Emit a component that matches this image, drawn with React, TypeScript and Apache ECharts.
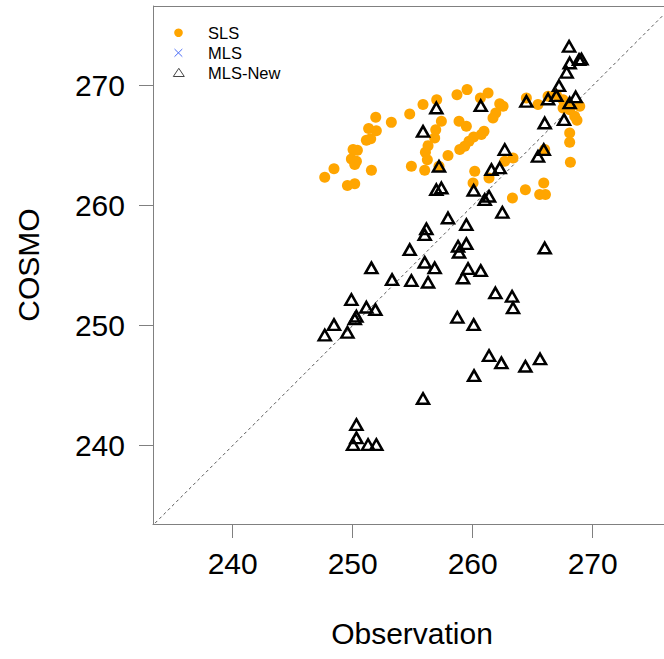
import React, { useEffect, useRef } from 'react';
import * as echarts from 'echarts';

// SLS: [Observation, COSMO]
const slsPoints: number[][] = [
  [247.67, 262.36], [248.44, 263.08], [249.56, 261.67], [250.17, 261.83],
  [250.03, 264.67], [250.39, 264.61], [249.89, 263.89], [250.31, 263.69],
  [250.17, 263.42], [251.56, 262.94], [251.14, 265.44], [251.5, 265.58],
  [251.33, 266.42], [251.97, 266.25], [251.92, 267.36], [253.22, 266.94],
  [254.75, 267.64], [255.86, 268.42], [257.0, 268.83], [257.39, 267.03],
  [256.92, 266.33], [256.83, 265.64], [256.28, 265.0], [256.06, 264.44],
  [256.22, 263.83], [254.89, 263.28], [256.0, 262.94], [257.94, 264.17],
  [258.69, 269.25], [259.53, 269.67], [260.64, 268.97], [261.28, 269.39],
  [262.25, 268.5], [262.53, 268.28], [261.92, 267.72], [261.69, 267.31],
  [260.94, 266.19], [260.72, 265.92], [260.08, 265.72], [259.69, 265.36],
  [259.33, 264.94], [258.92, 264.67], [258.86, 267.03], [259.47, 266.61],
  [260.17, 262.86], [260.03, 261.89], [261.36, 262.31], [262.67, 263.69],
  [263.36, 263.97], [263.31, 260.64], [264.39, 261.33], [265.58, 260.92],
  [266.06, 260.92], [265.92, 261.89], [264.47, 268.97], [265.44, 268.42],
  [266.28, 269.11], [266.97, 269.25], [267.53, 268.83], [267.94, 268.42],
  [267.53, 268.14], [268.08, 268.0], [268.92, 268.28], [268.5, 267.44],
  [268.69, 267.11], [268.08, 266.06], [268.08, 265.28], [268.14, 263.61],
  [266.0, 264.67], [257.19, 263.28]
];

// MLS: no visible points in the plot
const mlsPoints: number[][] = [];

// MLS-New: [Observation, COSMO]
const mlsNewPoints: number[][] = [
  [268.03, 273.28], [268.86, 272.17], [269.06, 272.22], [268.08, 271.89],
  [267.83, 271.11], [267.19, 270.0], [266.97, 269.17], [266.28, 268.89],
  [268.58, 269.06], [268.08, 268.56], [264.47, 268.69], [260.67, 268.33],
  [256.97, 268.14], [255.86, 266.19], [266.0, 266.89], [267.61, 267.17],
  [262.67, 264.67], [265.92, 264.67], [265.44, 264.11], [257.19, 263.28],
  [261.56, 263.0], [262.25, 263.14], [256.97, 261.33], [257.39, 261.47],
  [260.08, 261.28], [261.0, 260.5], [261.36, 260.78], [257.94, 258.97],
  [259.47, 258.42], [262.47, 259.44], [256.14, 258.06], [256.0, 257.58],
  [254.75, 256.33], [258.78, 256.61], [259.47, 256.83], [258.86, 256.11],
  [266.0, 256.47], [251.56, 254.81], [253.28, 253.83], [254.89, 253.75],
  [256.28, 253.61], [256.0, 255.28], [256.83, 254.81], [259.19, 253.97],
  [259.61, 254.75], [260.67, 254.58], [261.89, 252.72], [263.28, 252.44],
  [263.36, 251.47], [258.72, 250.69], [260.08, 250.08], [249.89, 252.17],
  [251.14, 251.53], [251.89, 251.33], [250.31, 250.78], [250.17, 250.56],
  [248.44, 250.08], [249.56, 249.44], [247.67, 249.21], [261.36, 247.5],
  [262.39, 246.89], [260.11, 245.83], [264.39, 246.61], [265.61, 247.22],
  [255.86, 243.92], [250.31, 241.75], [250.31, 240.64], [250.03, 240.08],
  [251.28, 240.08], [251.97, 240.08]
];

const identityLine: number[][] = [[230, 230], [280, 280]];
const xTicks = [240, 250, 260, 270];
const yTicks = [240, 250, 260, 270];
const legendNames = ['SLS', 'MLS', 'MLS-New'];

export default function App() {
  const ref = useRef<HTMLDivElement>(null);
  useEffect(() => {
    const chart = echarts.init(ref.current!, null, { renderer: 'svg' });
    const font = '"Liberation Sans", Arial, Helvetica, sans-serif';
    const gray = '#808080';
    chart.setOption({
      animation: false,
      backgroundColor: '#ffffff',
      textStyle: { fontFamily: font },
      grid: { left: 153, right: 0, top: 6, bottom: 135, show: false },
      xAxis: {
        type: 'value', min: 233.36, max: 275.94,
        name: 'Observation', nameLocation: 'middle', nameGap: 94,
        nameTextStyle: { fontSize: 30, color: '#000', fontFamily: font, padding: [0, 0, 0, 7] },
        axisLine: { show: true, lineStyle: { color: gray, width: 1 } },
        axisTick: { show: true, length: 14, lineStyle: { color: gray, width: 1 }, customValues: xTicks },
        axisLabel: { fontSize: 30, color: '#000', margin: 24, fontFamily: font, customValues: xTicks },
        splitLine: { show: false }
      },
      yAxis: {
        type: 'value', min: 233.46, max: 276.64,
        name: 'COSMO', nameLocation: 'middle', nameGap: 110,
        nameTextStyle: { fontSize: 30, color: '#000', fontFamily: font },
        axisLine: { show: true, lineStyle: { color: gray, width: 1 } },
        axisTick: { show: true, length: 14, lineStyle: { color: gray, width: 1 }, customValues: yTicks },
        axisLabel: { fontSize: 30, color: '#000', margin: 28, fontFamily: font, customValues: yTicks },
        splitLine: { show: false }
      },
      series: [
        {
          type: 'line', data: identityLine, showSymbol: false, silent: true, z: 1,
          lineStyle: { color: '#555', width: 1, type: [3, 3] }, clip: true
        },
        {
          type: 'scatter', name: legendNames[0], data: slsPoints, symbol: 'circle', symbolSize: 11,
          itemStyle: { color: '#FFA500', opacity: 1 }, z: 2
        },
        {
          type: 'scatter', name: legendNames[1], data: mlsPoints, symbol: 'circle', symbolSize: 8,
          itemStyle: { color: '#4a6cf7' }, z: 3
        },
        {
          type: 'scatter', name: legendNames[2], data: mlsNewPoints, symbol: 'triangle', symbolSize: [12, 10.5],
          itemStyle: { color: 'rgba(0,0,0,0)', borderColor: '#000', borderWidth: 2.5, opacity: 1 }, z: 4
        }
      ],
      graphic: [
        { type: 'line', shape: { x1: 153, y1: 6.5, x2: 664, y2: 6.5 }, style: { stroke: gray, lineWidth: 1 }, z: 10 },
        { type: 'circle', shape: { cx: 178.5, cy: 32.7, r: 4.3 }, style: { fill: '#FFA500' }, z: 10 },
        { type: 'line', shape: { x1: 174.5, y1: 49, x2: 182.3, y2: 56.7 }, style: { stroke: '#4a6cf7', lineWidth: 1 }, z: 10 },
        { type: 'line', shape: { x1: 174.5, y1: 56.7, x2: 182.3, y2: 49 }, style: { stroke: '#4a6cf7', lineWidth: 1 }, z: 10 },
        { type: 'polygon', shape: { points: [[178.8, 68.3], [184.3, 76.5], [173.3, 76.5]] }, style: { fill: 'none', stroke: '#444', lineWidth: 1 }, z: 10 },
        { type: 'text', x: 208, y: 32.7, style: { text: legendNames[0], fontSize: 16.5, fill: '#000', fontFamily: font, verticalAlign: 'middle' }, z: 10 },
        { type: 'text', x: 208, y: 52.7, style: { text: legendNames[1], fontSize: 16.5, fill: '#000', fontFamily: font, verticalAlign: 'middle' }, z: 10 },
        { type: 'text', x: 208, y: 72.7, style: { text: legendNames[2], fontSize: 16.5, fill: '#000', fontFamily: font, verticalAlign: 'middle' }, z: 10 }
      ]
    });
    return () => chart.dispose();
  }, []);
  return <div ref={ref} style={{ position: 'fixed', left: 0, top: 0, width: 664, height: 659 }} />;
}
